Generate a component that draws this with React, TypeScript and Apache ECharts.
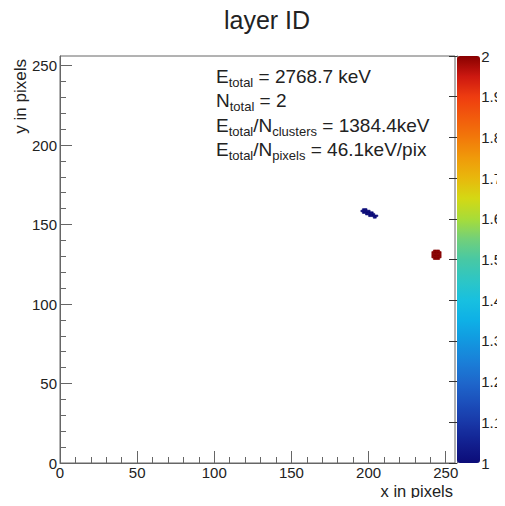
import React, { useEffect, useRef } from "react";
import * as echarts from "echarts";

// ---- data ----
const titleText = "layer ID";
const xAxisTitle = "x in pixels";
const yAxisTitle = "y in pixels";

const xMajorTicks = [0, 50, 100, 150, 200, 250];
const yMajorTicks = [0, 50, 100, 150, 200, 250];
const minorTicks = [
  0, 10, 20, 30, 40, 50, 60, 70, 80, 90, 100, 110, 120, 130, 140, 150, 160, 170, 180, 190, 200,
  210, 220, 230, 240, 250,
];
const axisMin = 0;
const axisMax = 256;

const layerMin = 1;
const layerMax = 2;

// cluster 1 (layer ID 1) pixels [x, y]
const cluster1Pixels: [number, number][] = [
  [196, 159], [197, 159], [198, 159],
  [195, 158], [196, 158], [197, 158], [198, 158], [199, 158], [200, 158],
  [196, 157], [197, 157], [198, 157], [199, 157], [200, 157], [201, 157], [202, 157],
  [198, 156], [199, 156], [200, 156], [201, 156], [202, 156], [203, 156],
  [200, 155], [201, 155], [202, 155], [203, 155], [204, 155], [205, 155],
  [203, 154], [204, 154],
];
const cluster1Layer = 1;

// cluster 2 (layer ID 2) pixels [x, y]
const cluster2Pixels: [number, number][] = [
  [242, 133], [243, 133], [244, 133], [245, 133],
  [241, 132], [242, 132], [243, 132], [244, 132], [245, 132], [246, 132],
  [241, 131], [242, 131], [243, 131], [244, 131], [245, 131], [246, 131],
  [241, 130], [242, 130], [243, 130], [244, 130], [245, 130], [246, 130],
  [241, 129], [242, 129], [243, 129], [244, 129], [245, 129], [246, 129],
  [242, 128], [243, 128], [244, 128], [245, 128],
];
const cluster2Layer = 2;

const infoLines = [
  "{m|E}{s|total}{m| = 2768.7 keV}",
  "{m|N}{s|total}{m| = 2}",
  "{m|E}{s|total}{m|/N}{s|clusters}{m| = 1384.4keV}",
  "{m|E}{s|total}{m|/N}{s|pixels}{m| = 46.1keV/pix}",
];

// ---- style ----
const FONT = "'Liberation Sans', Arial, Helvetica, sans-serif";
const AXIS_COLOR = "#666";
const TEXT_COLOR = "#222";
const PALETTE = [
  "#0c0c78", "#122090", "#1838a8", "#1c50bc", "#1e68cc", "#1a80d8", "#1298e0",
  "#0eb0e6", "#18c0e0", "#2ec6c4", "#48c8a4", "#72d07a", "#a8dc38", "#d4d814",
  "#e8b80c", "#f09a0a", "#f2780a", "#f25a0c", "#ee3c10", "#cc1810", "#880000",
];

export default function App() {
  const ref = useRef<HTMLDivElement>(null);

  useEffect(() => {
    if (!ref.current) return;
    const chart = echarts.init(ref.current, null, { renderer: "svg" });

    const data = [
      ...cluster1Pixels.map((p) => [p[0], p[1], cluster1Layer]),
      ...cluster2Pixels.map((p) => [p[0], p[1], cluster2Layer]),
    ];

    const grid = { left: 60, top: 56, width: 395, height: 407 };

    const option: any = {
      animation: false,
      backgroundColor: "#fff",
      textStyle: { fontFamily: FONT },
      grid: [
        { ...grid, show: true, borderColor: AXIS_COLOR, borderWidth: 1, backgroundColor: "transparent" },
        { left: 457, top: 56, width: 23, height: 407, show: false },
        { ...grid, show: false },
      ],
      xAxis: [
        {
          type: "value", gridIndex: 0, min: axisMin, max: axisMax, interval: 50,
          axisLine: { show: true, lineStyle: { color: AXIS_COLOR } },
          axisTick: { show: true, inside: true, length: 12, customValues: xMajorTicks, lineStyle: { color: AXIS_COLOR } },
          axisLabel: { customValues: xMajorTicks, fontSize: 15, lineHeight: 15, color: TEXT_COLOR, margin: 2, fontFamily: FONT },
          splitLine: { show: false },
        },
        {
          type: "value", gridIndex: 1, min: 0, max: 1, show: false,
        },
        {
          type: "value", gridIndex: 2, min: axisMin, max: axisMax, interval: 10,
          axisLine: { show: false },
          axisTick: { show: true, inside: true, length: 6, customValues: minorTicks, lineStyle: { color: AXIS_COLOR } },
          axisLabel: { show: false },
          splitLine: { show: false },
        },
      ],
      yAxis: [
        {
          type: "value", gridIndex: 0, min: axisMin, max: axisMax, interval: 50,
          axisLine: { show: true, lineStyle: { color: AXIS_COLOR } },
          axisTick: { show: true, inside: true, length: 12, customValues: yMajorTicks, lineStyle: { color: AXIS_COLOR } },
          axisLabel: { customValues: yMajorTicks, fontSize: 15, color: TEXT_COLOR, margin: 3, fontFamily: FONT },
          splitLine: { show: false },
        },
        {
          type: "value", gridIndex: 1, min: layerMin, max: layerMax, interval: 0.1, position: "right",
          axisLine: { show: true, lineStyle: { color: AXIS_COLOR } },
          axisTick: { show: true, inside: true, length: 8, lineStyle: { color: "#333" } },
          axisLabel: { fontSize: 15, color: TEXT_COLOR, margin: 6, fontFamily: FONT },
          splitLine: { show: false },
        },
        {
          type: "value", gridIndex: 2, min: axisMin, max: axisMax, interval: 10,
          axisLine: { show: false },
          axisTick: { show: true, inside: true, length: 6, customValues: minorTicks, lineStyle: { color: AXIS_COLOR } },
          axisLabel: { show: false },
          splitLine: { show: false },
        },
      ],
      visualMap: {
        type: "continuous",
        min: layerMin,
        max: layerMax,
        dimension: 2,
        seriesIndex: 0,
        calculable: false,
        left: 457,
        top: 56,
        itemWidth: 23,
        itemHeight: 407,
        padding: 0,
        text: null,
        showLabel: false,
        inRange: { color: PALETTE },
      },
      series: [
        {
          type: "custom",
          xAxisIndex: 0,
          yAxisIndex: 0,
          data,
          encode: { x: 0, y: 1 },
          renderItem: (params: any, api: any) => {
            const x = api.value(0);
            const y = api.value(1);
            const p0 = api.coord([x, y + 1]);
            const p1 = api.coord([x + 1, y]);
            const c = api.visual("color");
            return {
              type: "rect",
              shape: { x: p0[0], y: p0[1], width: p1[0] - p0[0], height: p1[1] - p0[1] },
              style: { fill: c, stroke: c, lineWidth: 0.6 },
            };
          },
        },
      ],
      graphic: [
        {
          type: "text", x: 267, y: 20,
          style: { text: titleText, fontSize: 25, fontFamily: FONT, fill: TEXT_COLOR, textAlign: "center", textVerticalAlign: "middle" },
        },
        {
          type: "text", x: 453, y: 491,
          style: { text: xAxisTitle, fontSize: 16.5, lineHeight: 14, fontFamily: FONT, fill: TEXT_COLOR, textAlign: "right", textVerticalAlign: "middle" },
        },
        {
          type: "text", x: 20, y: 59, rotation: Math.PI / 2,
          style: { text: yAxisTitle, fontSize: 17, fontFamily: FONT, fill: TEXT_COLOR, textAlign: "right", textVerticalAlign: "middle" },
        },
        {
          type: "text", x: 216, y: 64,
          style: {
            text: infoLines.join("\n"),
            fontFamily: FONT,
            fill: TEXT_COLOR,
            textAlign: "left",
            textVerticalAlign: "top",
            rich: {
              m: { fontSize: 19, lineHeight: 24.5, fontFamily: FONT, fill: TEXT_COLOR, color: TEXT_COLOR },
              s: { fontSize: 13, lineHeight: 14, verticalAlign: "bottom", fontFamily: FONT, fill: TEXT_COLOR, color: TEXT_COLOR },
            },
          },
        },
      ],
    };

    chart.setOption(option);
    return () => chart.dispose();
  }, []);

  return <div ref={ref} style={{ width: 505, height: 506, margin: -8 }} />;
}
